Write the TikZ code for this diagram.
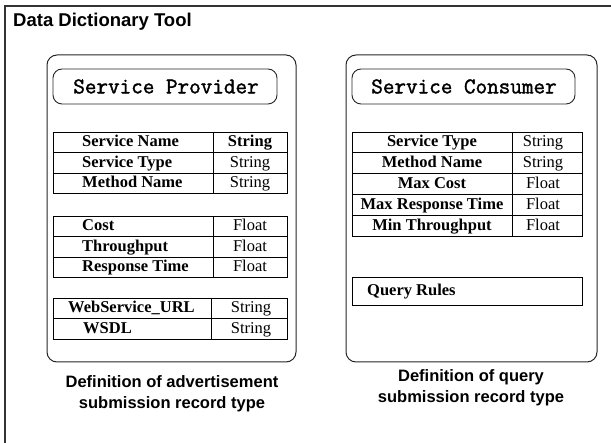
\documentclass[tikz,border=0pt]{standalone}
\usepackage{fontspec}
\setmainfont{Liberation Serif}
\newfontfamily\headfont{Liberation Sans}
\newfontfamily\namefont[FakeBold=1.6]{Latin Modern Mono}
\tikzset{
  panel/.style={draw=black!85, rounded corners=10pt, line width=1pt},
  namebox/.style={draw=black!85, rounded corners=9pt, line width=0.9pt},
  cell/.style={draw, line width=0.9pt},
  field/.style={font=\fontsize{16.5}{18}\selectfont\bfseries, inner sep=0pt},
  ftype/.style={font=\fontsize{16.5}{18}\selectfont, inner sep=0pt},
  heading/.style={font=\namefont\fontsize{22.5}{24}\selectfont, inner sep=0pt},
  caption/.style={font=\headfont\bfseries\fontsize{16.5}{21}\selectfont, align=center, inner sep=0pt},
}
\begin{document}
\begin{tikzpicture}[x=1pt,y=-1pt]
\useasboundingbox (0,0) rectangle (611,443);
% outer frame
\draw[line width=1.3pt, black!80] (611,6) -- (5,6) -- (5,443);
\node[anchor=base west, inner sep=0pt, font=\headfont\bfseries\fontsize{18.5}{20}\selectfont] (tool) at (13,27) {Data Dictionary Tool};

% provider side
\draw[panel] (47,55) rectangle (296,362);
\draw[namebox] (53,69) rectangle (277,104);
\node[heading] (provider) at (166,86.5) {Service Provider};
\foreach \top/\name/\type [count=\i] in {132/Service Name/String, 152.5/Service Type/String, 173/Method Name/String,
    216/Cost/Float, 236.5/Throughput/Float, 257/Response Time/Float} {
  \draw[cell] (53,\top) rectangle (213,\top+20.5);
  \draw[cell] (213,\top) rectangle (287,\top+20.5);
  \node[field, anchor=base west] (pf\i) at (82,\top+15) {\name};
  \ifnum\i=1
    \node[ftype, anchor=base, font=\fontsize{16.5}{18}\selectfont\bfseries] (pt\i) at (250,\top+15) {\type};
  \else
    \node[ftype, anchor=base] (pt\i) at (250,\top+15) {\type};
  \fi
}
\draw[cell] (53,298) rectangle (211,318.5);
\draw[cell] (211,298) rectangle (287,318.5);
\draw[cell] (53,318.5) rectangle (211,339);
\draw[cell] (211,318.5) rectangle (287,339);
\node[field, anchor=base west] (url) at (68,313) {WebService\_URL};
\node[ftype, anchor=base] (urltype) at (251,313) {String};
\node[field, anchor=base west] (wsdl) at (83,333.5) {WSDL};
\node[ftype, anchor=base] (wsdltype) at (251,333.5) {String};
\node[caption] (advert) at (172,394) {Definition of advertisement\\submission record type};

% consumer side
\draw[panel] (346,55) rectangle (597,362);
\draw[namebox] (352,69) rectangle (575,104);
\node[heading] (consumer) at (464,86.5) {Service Consumer};
\foreach \name/\type [count=\i from 0] in {Service Type/String, Method Name/String, Max Cost/Float,
    Max Response Time/Float, Min Throughput/Float} {
  \draw[cell] (352,132+20.8*\i) rectangle (512,152.8+20.8*\i);
  \draw[cell] (512,132+20.8*\i) rectangle (582,152.8+20.8*\i);
  \node[field, anchor=base] (cf\i) at (432,147+20.8*\i) {\name};
  \node[ftype, anchor=base] (ct\i) at (543,147+20.8*\i) {\type};
}
\draw[cell] (352,277) rectangle (582,305);
\node[field, anchor=base west] (rules) at (367,296) {Query Rules};
\node[caption] (query) at (471,388) {Definition of query\\submission record type};
\end{tikzpicture}
\end{document}
